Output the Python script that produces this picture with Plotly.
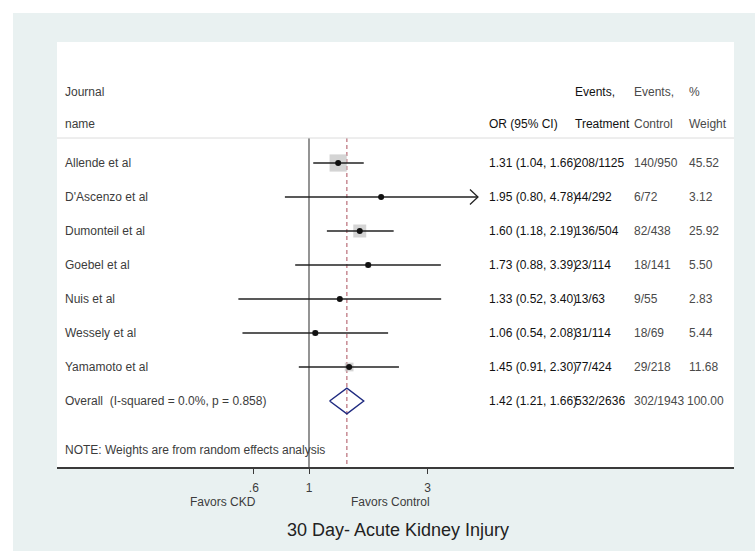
import math
import plotly.graph_objects as go

# ---- study data -----------------------------------------------------------
studies = ["Allende et al", "D'Ascenzo et al", "Dumonteil et al", "Goebel et al",
           "Nuis et al", "Wessely et al", "Yamamoto et al"]
or_est = [1.31, 1.95, 1.60, 1.73, 1.33, 1.06, 1.45]
ci_low = [1.04, 0.80, 1.18, 0.88, 0.52, 0.54, 0.91]
ci_high = [1.66, 4.78, 2.19, 3.39, 3.40, 2.08, 2.30]
events_treatment = ["208/1125", "44/292", "136/504", "23/114", "13/63", "31/114", "77/424"]
events_control = ["140/950", "6/72", "82/438", "18/141", "9/55", "18/69", "29/218"]
weights = [45.52, 3.12, 25.92, 5.50, 2.83, 5.44, 11.68]

overall_label = "Overall\u00a0\u00a0(I-squared = 0.0%, p = 0.858)"
overall_est, overall_low, overall_high = 1.42, 1.21, 1.66
overall_treatment, overall_control, overall_weight = "532/2636", "302/1943", 100.00
note_text = "NOTE: Weights are from random effects analysis"

tick_values = [0.6, 1, 3]
tick_labels = [".6", "1", "3"]
x_clip_high = 4.78          # CI lines beyond this end in an arrow

# ---- page geometry (pixels) -----------------------------------------------
FIG_W, FIG_H = 755, 551
L, R, T, B = 57, 734, 42, 467          # plot region
PW, PH = R - L, B - T
ROW_PX = 34
FIRST_ROW_PX = 163


def paper_x(p):
    return (p - L) / PW


def paper_y(p):
    return (B - p) / PH


def row_at(p):
    return (p - FIRST_ROW_PX) / ROW_PX


# row index -> y (reversed linear axis, one unit per table row)
y_top = row_at(T)
y_bot = row_at(B)
rows = list(range(len(studies)))
overall_row = len(studies)
note_row = overall_row + 1.45
header_rows = (row_at(92), row_at(124))
divider_row = row_at(138)

# x axis: log scale, 1 sits at x=309px, ~108 px per natural-log unit
px_per_decade = 108 * math.log(10)
x_range = [-(309 - L) / px_per_decade, (R - 309) / px_per_decade]

FONT = "Liberation Sans, Arial, Helvetica, sans-serif"
DARK = "#111111"
MID = "#3c3c3c"
GREY = "#4a4a4a"

fig = go.Figure()

# reference line at OR = 1
fig.add_trace(go.Scatter(x=[1, 1], y=[divider_row, y_bot], mode="lines",
                         line=dict(color="#5a5a5a", width=1.3),
                         hoverinfo="skip", showlegend=False))

# dashed line at the pooled estimate
fig.add_trace(go.Scatter(x=[overall_est, overall_est], y=[divider_row, y_bot], mode="lines",
                         line=dict(color="#b4606c", width=1.1, dash="4px,3px"),
                         hoverinfo="skip", showlegend=False))

# weight boxes
fig.add_trace(go.Scatter(x=or_est, y=rows, mode="markers",
                         marker=dict(symbol="square", color="#c2c2c2",
                                     size=[2.55 * math.sqrt(w) for w in weights],
                                     line=dict(width=0)),
                         hoverinfo="skip", showlegend=False))

# confidence intervals
ci_x, ci_y = [], []
arrow_x, arrow_y = [], []
for i, (lo, hi) in enumerate(zip(ci_low, ci_high)):
    end = min(hi, x_clip_high)
    ci_x += [lo, end, None]
    ci_y += [i, i, None]
    if hi >= x_clip_high:
        back = end / math.exp(8 / 108)
        arrow_x += [back, end, back, None]
        arrow_y += [i - 0.22, i, i + 0.22, None]
fig.add_trace(go.Scatter(x=ci_x, y=ci_y, mode="lines",
                         line=dict(color="#222222", width=1.5),
                         hoverinfo="skip", showlegend=False))
fig.add_trace(go.Scatter(x=arrow_x, y=arrow_y, mode="lines",
                         line=dict(color="#222222", width=1.3),
                         hoverinfo="skip", showlegend=False))

# point estimates
fig.add_trace(go.Scatter(x=or_est, y=rows, mode="markers",
                         marker=dict(symbol="circle", color="#111111", size=6),
                         hoverinfo="skip", showlegend=False))

# pooled diamond
d = 0.38
fig.add_trace(go.Scatter(
    x=[overall_low, overall_est, overall_high, overall_est, overall_low],
    y=[overall_row, overall_row - d, overall_row, overall_row + d, overall_row],
    mode="lines", line=dict(color="#1f2a80", width=1.4),
    hoverinfo="skip", showlegend=False))

annotations = []


def text(x_px, y_row, s, color=MID, size=12):
    annotations.append(dict(x=paper_x(x_px), y=y_row, xref="paper", yref="y",
                            text=s, showarrow=False, xanchor="left", yanchor="middle",
                            font=dict(family=FONT, size=size, color=color)))


COL_NAME, COL_OR, COL_TRT, COL_CTL, COL_WT = 63, 487, 573, 632, 687

# column headers
text(COL_NAME, header_rows[0], "Journal")
text(COL_NAME, header_rows[1], "name")
text(COL_OR, header_rows[1], "OR (95% CI)", DARK)
text(COL_TRT, header_rows[0], "Events,", DARK)
text(COL_TRT, header_rows[1], "Treatment", DARK)
text(COL_CTL, header_rows[0], "Events,", GREY)
text(COL_CTL, header_rows[1], "Control", GREY)
text(COL_WT, header_rows[0], "%", GREY)
text(COL_WT, header_rows[1], "Weight", GREY)

# study rows
for i, name in enumerate(studies):
    text(COL_NAME, i, name)
    text(COL_OR, i, f"{or_est[i]:.2f} ({ci_low[i]:.2f}, {ci_high[i]:.2f})", DARK)
    text(COL_TRT, i, events_treatment[i], DARK)
    text(COL_CTL, i, events_control[i], GREY)
    text(COL_WT, i, f"{weights[i]:.2f}", GREY)

# pooled row
text(COL_NAME, overall_row, overall_label)
text(COL_OR, overall_row, f"{overall_est:.2f} ({overall_low:.2f}, {overall_high:.2f})", DARK)
text(COL_TRT, overall_row, overall_treatment, DARK)
text(COL_CTL, overall_row, overall_control, GREY)
text(COL_WT - 2, overall_row, f"{overall_weight:.2f}", GREY)

text(COL_NAME, note_row, note_text)

# direction labels and title under the axis
for xv, label in [(0.6, "Favors CKD"), (3, "Favors Control")]:
    annotations.append(dict(x=math.log10(xv), y=paper_y(502), xref="x", yref="paper",
                            text=label, showarrow=False, xanchor="right", yanchor="middle",
                            xshift=4, font=dict(family=FONT, size=12, color=MID)))
annotations.append(dict(x=paper_x(398), y=paper_y(530), xref="paper", yref="paper",
                        text="30 Day- Acute Kidney Injury", showarrow=False,
                        xanchor="center", yanchor="middle",
                        font=dict(family=FONT, size=18, color="#222222")))

shapes = [
    # outer tinted panel
    dict(type="rect", xref="paper", yref="paper", layer="below",
         x0=paper_x(13), x1=paper_x(FIG_W + 2), y0=paper_y(FIG_H + 2), y1=paper_y(13),
         fillcolor="#e9f1f1", line=dict(width=0)),
    # white plot panel
    dict(type="rect", xref="paper", yref="paper", layer="below",
         x0=0, x1=1, y0=0, y1=1, fillcolor="white", line=dict(width=0)),
    # divider below the header
    dict(type="line", xref="paper", yref="y", x0=0, x1=1, y0=divider_row, y1=divider_row,
         line=dict(color="#dcdcdc", width=1)),
]

fig.update_layout(
    width=FIG_W, height=FIG_H,
    margin=dict(l=L, r=FIG_W - R, t=T, b=FIG_H - B, pad=0),
    paper_bgcolor="white", plot_bgcolor="rgba(0,0,0,0)",
    annotations=annotations, shapes=shapes,
    xaxis=dict(type="log", range=x_range, tickvals=tick_values, ticktext=tick_labels,
               showline=True, linecolor="#3a3a3a", linewidth=1.5, mirror=False,
               ticks="outside", ticklen=5, tickcolor="#3a3a3a", tickwidth=1,
               ticklabelstandoff=4,
               showgrid=False, zeroline=False,
               tickfont=dict(family=FONT, size=12, color=MID)),
    yaxis=dict(range=[y_bot, y_top], showgrid=False, zeroline=False,
               showticklabels=False, showline=False, ticks=""),
    showlegend=False,
)

fig.write_html("out.html")
